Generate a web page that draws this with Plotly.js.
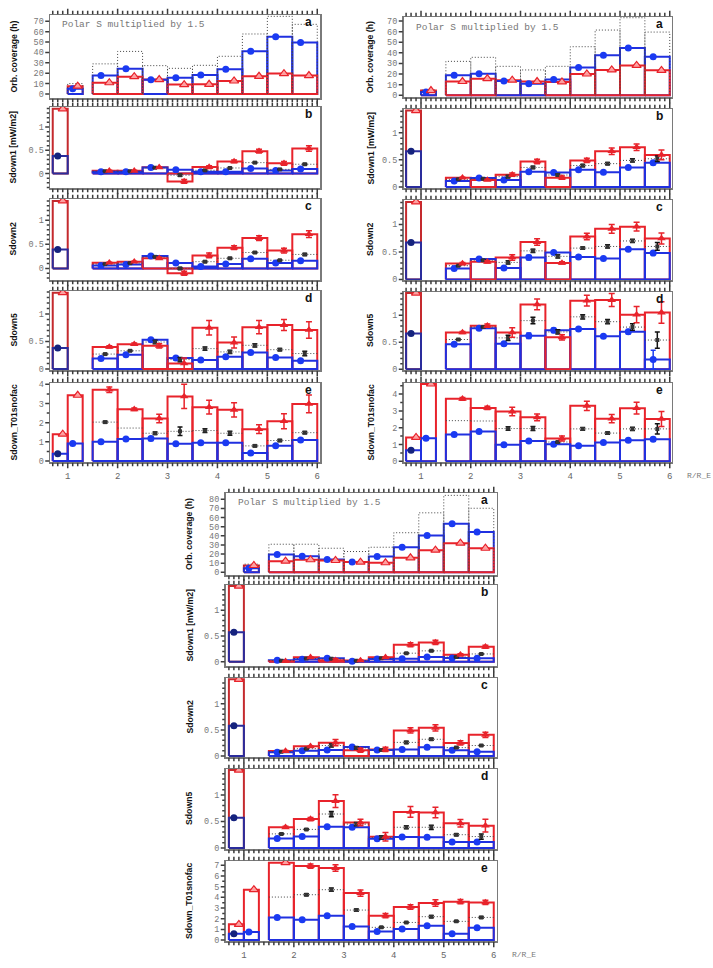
<!DOCTYPE html>
<html><head><meta charset="utf-8">
<script src="https://cdn.plot.ly/plotly-3.0.1.min.js"></script>
<style>html,body{margin:0;padding:0;background:#fff}#chart{width:713px;height:968px}</style>
</head><body><div id="chart"></div>
<script>
// Radial bins (R/R_E): lower and upper edges
const binLo = [0.7, 1.0, 1.5, 2.0, 2.5, 3.0, 3.5, 4.0, 4.5, 5.0, 5.5];
const binHi = [1.0, 1.3, 2.0, 2.5, 3.0, 3.5, 4.0, 4.5, 5.0, 5.5, 6.0];

// ---- Upper-left set ----
const tlA_total = [null, 10, 29, 41, 27.3, 24.7, 27.6, 36.3, 57.8, 74.8, 67.1];
const tlA_blue  = [null, 5, 17.7, 24.4, 13.8, 15.7, 18.3, 23.8, 41.1, 55.2, 49.5];
const tlA_red   = [null, 7.5, 10.8, 16.7, 13.9, 9, 9.3, 12.5, 17, 19.6, 17.7];

const tlB_blue    = [0.38, null, 0.04, 0.04, 0.13, 0.08, 0.04, 0.04, 0.11, 0.065, 0.10];
const tlB_blueErr = [0, null, 0, 0, 0, 0, 0, 0, 0, 0, 0];
const tlB_red     = [1.39, null, 0.06, 0.06, 0.135, -0.17, 0.14, 0.26, 0.48, 0.22, 0.54];
const tlB_redErr  = [null, null, 0.01, 0.01, 0.01, 0.04, 0.03, 0.03, 0.04, 0.04, 0.06];
const tlB_mean    = [null, null, 0.05, 0.05, 0.125, -0.035, 0.07, 0.12, 0.235, 0.09, 0.2];
const tlB_meanErr = [null, null, 0.005, 0.005, 0.01, 0.02, 0.01, 0.01, 0.015, 0.01, 0.015];

const tlC_blue    = [0.39, null, 0.06, 0.08, 0.26, 0.11, 0.04, 0.09, 0.20, 0.11, 0.16];
const tlC_blueErr = [0, null, 0, 0, 0, 0, 0, 0, 0, 0, 0];
const tlC_red     = [1.40, null, 0.12, 0.14, 0.21, -0.10, 0.27, 0.43, 0.63, 0.37, 0.71];
const tlC_redErr  = [null, null, 0.01, 0.01, 0.02, 0.04, 0.05, 0.04, 0.05, 0.05, 0.07];
const tlC_mean    = [null, null, 0.09, 0.11, 0.24, 0.0, 0.14, 0.21, 0.33, 0.17, 0.29];
const tlC_meanErr = [null, null, 0.005, 0.01, 0.01, 0.02, 0.015, 0.015, 0.015, 0.01, 0.02];

const tlD_blue    = [0.38, null, 0.19, 0.26, 0.53, 0.20, 0.16, 0.22, 0.30, 0.21, 0.15];
const tlD_blueErr = [0, null, 0, 0, 0.02, 0.02, 0, 0, 0, 0, 0];
const tlD_red     = [1.39, null, 0.40, 0.45, 0.42, 0.10, 0.75, 0.48, 0.76, 0.80, 0.71];
const tlD_redErr  = [null, null, 0.02, 0.02, 0.04, 0.1, 0.13, 0.1, 0.12, 0.1, 0.15];
const tlD_mean    = [null, null, 0.27, 0.33, 0.49, 0.17, 0.37, 0.31, 0.43, 0.35, 0.28];
const tlD_meanErr = [null, null, 0.01, 0.01, 0.03, 0.04, 0.03, 0.03, 0.03, 0.02, 0.04];

const tlE_blue    = [0.38, 0.92, 1.0, 1.15, 1.17, 0.9, 0.95, 0.95, 0.42, 0.80, 1.1];
const tlE_blueErr = [0, 0, 0, 0, 0.1, 0, 0, 0, 0, 0, 0];
const tlE_red     = [1.40, 3.43, 3.72, 2.70, 2.22, 3.37, 2.81, 2.67, 1.66, 2.08, 2.98];
const tlE_redErr  = [null, null, 0.14, 0.07, 0.22, 0.63, 0.36, 0.37, 0.23, 0.39, 0.46];
const tlE_mean    = [null, null, 2.03, 1.72, 1.45, 1.55, 1.59, 1.45, 0.79, 1.07, 1.48];
const tlE_meanErr = [null, null, 0.05, null, 0.07, 0.22, 0.1, 0.1, 0.05, 0.05, 0.06];

// ---- Upper-right set ----
const trA_total = [null, 5, 32, 35.8, 27.3, 23.9, 27.3, 45.8, 61.5, 73.1, 59.6];
const trA_blue  = [null, 3, 19, 20.4, 13.5, 11, 14.8, 26.2, 37.7, 44.6, 36.3];
const trA_red   = [null, 4.5, 13, 15.7, 14.3, 13, 12.6, 20.1, 23.9, 28.2, 23.5];

const trB_blue    = [0.66, null, 0.11, 0.165, 0.13, 0.28, 0.265, 0.315, 0.27, 0.36, 0.445];
const trB_blueErr = [0, null, 0, 0, 0, 0.02, 0.02, 0, 0, 0, 0.03];
const trB_red     = [1.41, null, 0.17, 0.13, 0.225, 0.47, 0.17, 0.49, 0.66, 0.735, 0.59];
const trB_redErr  = [null, null, 0.01, 0.01, 0.03, 0.04, 0.03, 0.04, 0.06, 0.06, 0.09];
const trB_mean    = [null, null, 0.14, 0.15, 0.19, 0.36, 0.22, 0.395, 0.43, 0.49, 0.52];
const trB_meanErr = [null, null, 0.005, 0.005, 0.02, 0.02, 0.02, 0.02, 0.02, 0.03, 0.05];

const trC_blue    = [0.67, null, 0.20, 0.37, 0.21, 0.40, 0.49, 0.41, 0.38, 0.55, 0.48];
const trC_blueErr = [0, null, 0, 0, 0, 0.04, 0, 0, 0, 0, 0.03];
const trC_red     = [1.41, null, 0.29, 0.32, 0.40, 0.68, 0.30, 0.78, 0.92, 0.96, 0.745];
const trC_redErr  = [null, null, 0.02, 0.02, 0.05, 0.06, 0.02, 0.06, 0.08, 0.08, 0.1];
const trC_mean    = [null, null, 0.25, 0.35, 0.31, 0.52, 0.42, 0.57, 0.60, 0.70, 0.60];
const trC_meanErr = [null, null, 0.005, 0.01, 0.03, 0.03, 0.03, 0.02, 0.03, 0.03, 0.07];

const trD_blue    = [0.66, null, 0.46, 0.76, 0.47, 0.62, 0.72, 0.745, 0.61, 0.695, 0.18];
const trD_blueErr = [0, null, 0.02, 0.02, 0.02, 0.05, 0.04, 0.02, 0.03, 0.04, 0.17];
const trD_red     = [1.41, null, 0.68, 0.805, 0.68, 1.20, 0.59, 1.27, 1.28, 1.01, 1.05];
const trD_redErr  = [null, null, 0.02, 0.03, 0.09, 0.1, 0.05, 0.1, 0.12, 0.15, 0.2];
const trD_mean    = [null, null, 0.55, 0.78, 0.58, 0.90, 0.69, 0.97, 0.88, 0.78, 0.54];
const trD_meanErr = [null, null, 0.01, 0.01, 0.05, 0.06, 0.04, 0.04, 0.04, 0.06, 0.15];

const trE_blue    = [0.66, 1.38, 1.6, 1.78, 0.98, 1.21, 1.01, 0.92, 1.12, 1.26, 1.32];
const trE_blueErr = [0, 0, 0.03, 0.03, 0.05, 0.06, 0.05, 0.05, 0.06, 0.06, 0.1];
const trE_red     = [1.42, 4.6, 3.72, 3.18, 2.96, 2.62, 1.36, 3.3, 2.54, 3.16, 2.52];
const trE_redErr  = [null, null, 0.08, 0.09, 0.25, 0.2, 0.15, 0.27, 0.25, 0.35, 0.45];
const trE_mean    = [null, null, 2.42, 2.40, 1.95, 1.95, 1.15, 1.93, 1.68, 1.93, 1.93];
const trE_meanErr = [null, null, null, null, 0.1, 0.12, 0.04, 0.08, 0.07, 0.1, 0.3];

// ---- Lower set ----
const bA_total = [null, 9, 30.8, 30.8, 26.4, 22.8, 27.5, 43.4, 65.2, 84.3, 70.2];
const bA_blue  = [null, 4.5, 19.5, 17.7, 14.1, 11.4, 17.4, 27.5, 40.4, 53.2, 44.2];
const bA_red   = [null, 7.5, 12.2, 13.8, 13.0, 11.2, 10.5, 15.9, 24.3, 31.9, 26.4];

const bB_blue    = [0.57, null, 0.03, 0.045, 0.065, 0.01, 0.05, 0.055, 0.09, 0.07, 0.065];
const bB_blueErr = [0, null, 0, 0, 0, 0, 0, 0, 0, 0, 0];
const bB_red     = [1.47, null, 0.01, 0.085, 0.03, 0.025, 0.085, 0.33, 0.375, 0.135, 0.29];
const bB_redErr  = [null, null, 0.01, 0.01, 0.03, 0.01, 0.01, 0.04, 0.04, 0.02, 0.03];
const bB_mean    = [null, null, 0.02, 0.06, 0.055, 0.02, 0.065, 0.165, 0.21, 0.09, 0.15];
const bB_meanErr = [null, null, 0.005, 0.005, 0.005, 0.005, 0.005, 0.01, 0.01, 0.01, 0.01];

const bC_blue    = [0.58, null, 0.07, 0.10, 0.115, 0.17, 0.115, 0.125, 0.165, 0.11, 0.08];
const bC_blueErr = [0, null, 0, 0, 0, 0, 0, 0, 0, 0, 0];
const bC_red     = [1.47, null, 0.095, 0.185, 0.255, 0.11, 0.125, 0.49, 0.54, 0.25, 0.405];
const bC_redErr  = [null, null, 0.01, 0.01, 0.06, 0.04, 0.04, 0.05, 0.06, 0.04, 0.05];
const bC_mean    = [null, null, 0.08, 0.14, 0.2, 0.155, 0.115, 0.26, 0.32, 0.16, 0.2];
const bC_meanErr = [null, null, 0.005, 0.01, 0.03, 0.02, 0.01, 0.02, 0.02, 0.01, 0.01];

const bD_blue    = [0.57, null, 0.18, 0.215, 0.40, 0.39, 0.175, 0.205, 0.20, 0.11, 0.11];
const bD_blueErr = [0, null, 0, 0, 0, 0, 0, 0, 0, 0, 0];
const bD_red     = [1.47, null, 0.39, 0.545, 0.885, 0.48, 0.21, 0.68, 0.67, 0.465, 0.42];
const bD_redErr  = [null, null, 0.02, 0.03, 0.12, 0.06, 0.08, 0.1, 0.1, 0.07, 0.12];
const bD_mean    = [null, null, 0.265, 0.35, 0.64, 0.45, 0.2, 0.39, 0.39, 0.25, 0.215];
const bD_meanErr = [null, null, 0.01, 0.01, 0.05, 0.03, 0.03, 0.03, 0.04, 0.02, 0.05];

const bE_blue    = [0.58, 0.75, 2.12, 1.9, 2.27, 1.28, 0.8, 1.03, 1.34, 0.6, 1.15];
const bE_blueErr = [0, 0, 0, 0, 0, 0, 0, 0, 0, 0, 0];
const bE_red     = [1.47, 4.72, 7.25, 6.94, 6.75, 4.4, 2.28, 3.1, 3.47, 3.6, 3.53];
const bE_redErr  = [null, null, null, 0.2, 0.3, 0.3, 0.2, 0.22, 0.3, 0.2, 0.2];
const bE_mean    = [null, null, 4.03, 4.25, 4.72, 2.81, 1.19, 1.65, 2.19, 1.75, 2.12];
const bE_meanErr = [null, null, null, 0.1, 0.15, 0.1, 0.05, 0.05, 0.1, 0.05, 0.08];

// Axis titles and panel letters
const yTitles = ['Orb. coverage (h)', 'Sdown1 [mW/m2]', 'Sdown2', 'Sdown5', 'Sdown_T01snofac'];
const panelLetters = ['a', 'b', 'c', 'd', 'e'];
const noteText = 'Polar S multiplied by 1.5';

// ---- drawing ----
const W = 713, H = 968;
const BLUE = '#2030e0', BLUE_M = '#1a3af2', NAVY = '#15237e', BLUE_DK = '#2a2c9c';
const RED = '#e8232b', RED_DK = '#c42a2e', PINK = 'rgba(255,165,165,0.95)';
const FRAME = '#7a7a7a', TICK = '#3c3c3c';
const MONO = "'Liberation Mono', 'DejaVu Sans Mono', monospace";
const SANS = "'Liberation Sans', Arial, sans-serif";

const sets = [
  { left: 50, right: 320, xr: [0.645, 6.055], tops: [15, 107, 199, 291, 383], bots: [98, 188, 280, 370, 462],
    titleX: 13, rre: false,
    yr: [[-3.9, 76.1], [-0.31, 1.43], [-0.24, 1.44], [-0.02, 1.42], [-0.05, 4.07]],
    panels: [
      { total: tlA_total, blue: tlA_blue, red: tlA_red },
      { blue: tlB_blue, blueErr: tlB_blueErr, red: tlB_red, redErr: tlB_redErr, mean: tlB_mean, meanErr: tlB_meanErr },
      { blue: tlC_blue, blueErr: tlC_blueErr, red: tlC_red, redErr: tlC_redErr, mean: tlC_mean, meanErr: tlC_meanErr },
      { blue: tlD_blue, blueErr: tlD_blueErr, red: tlD_red, redErr: tlD_redErr, mean: tlD_mean, meanErr: tlD_meanErr },
      { blue: tlE_blue, blueErr: tlE_blueErr, red: tlE_red, redErr: tlE_redErr, mean: tlE_mean, meanErr: tlE_meanErr }
    ] },
  { left: 403.5, right: 671.5, xr: [0.648, 6.035], tops: [17, 109, 200, 292, 383], bots: [97, 188, 280, 370, 462],
    titleX: 370, rre: true,
    yr: [[-1.6, 73.8], [-0.02, 1.44], [-0.01, 1.445], [-0.015, 1.43], [-0.04, 4.66]],
    panels: [
      { total: trA_total, blue: trA_blue, red: trA_red },
      { blue: trB_blue, blueErr: trB_blueErr, red: trB_red, redErr: trB_redErr, mean: trB_mean, meanErr: trB_meanErr },
      { blue: trC_blue, blueErr: trC_blueErr, red: trC_red, redErr: trC_redErr, mean: trC_mean, meanErr: trC_meanErr },
      { blue: trD_blue, blueErr: trD_blueErr, red: trD_red, redErr: trD_redErr, mean: trD_mean, meanErr: trD_meanErr },
      { blue: trE_blue, blueErr: trE_blueErr, red: trE_red, redErr: trE_redErr, mean: trE_mean, meanErr: trE_meanErr }
    ] },
  { left: 225.5, right: 496.5, xr: [0.632, 6.055], tops: [493, 585, 678, 769, 861], bots: [575, 666, 757, 849, 941],
    titleX: 189, rre: true,
    yr: [[-2.9, 86.9], [-0.084, 1.49], [-0.02, 1.495], [-0.02, 1.49], [-0.09, 7.41]],
    panels: [
      { total: bA_total, blue: bA_blue, red: bA_red },
      { blue: bB_blue, blueErr: bB_blueErr, red: bB_red, redErr: bB_redErr, mean: bB_mean, meanErr: bB_meanErr },
      { blue: bC_blue, blueErr: bC_blueErr, red: bC_red, redErr: bC_redErr, mean: bC_mean, meanErr: bC_meanErr },
      { blue: bD_blue, blueErr: bD_blueErr, red: bD_red, redErr: bD_redErr, mean: bD_mean, meanErr: bD_meanErr },
      { blue: bE_blue, blueErr: bE_blueErr, red: bE_red, redErr: bE_redErr, mean: bE_mean, meanErr: bE_meanErr }
    ] }
];

function boxes(vals, keep) {
  const x = [], y = [];
  vals.forEach((v, i) => {
    if (v == null || !keep(i)) return;
    const lo = binLo[i], hi = binHi[i];
    x.push(lo, lo, hi, hi, lo, null);
    y.push(0, v, v, 0, 0, null);
  });
  return { x, y };
}
function levels(vals) {
  const x = [], y = [];
  vals.forEach((v, i) => {
    if (v == null) return;
    x.push(binLo[i], binHi[i], null);
    y.push(v, v, null);
  });
  return { x, y };
}
function openBoxes(vals) {
  const x = [], y = [];
  vals.forEach((v, i) => {
    if (v == null) return;
    x.push(binLo[i], binLo[i], binHi[i], binHi[i], null);
    y.push(0, v, v, 0, null);
  });
  return { x, y };
}
const at = f => binLo.map((lo, i) => lo + f * (binHi[i] - lo));

// multiples of step inside [lo, hi], optionally skipping multiples of a coarser step
function steps(lo, hi, step, skip) {
  const out = [];
  for (let t = Math.ceil(lo / step - 1e-9); t * step <= hi + 1e-9; t++) {
    const v = +(t * step).toFixed(6);
    if (skip && Math.abs(v / skip - Math.round(v / skip)) < 1e-6) continue;
    out.push(v);
  }
  return out;
}

const data = [];
const layout = {
  width: W, height: H, margin: { l: 0, r: 0, t: 0, b: 0 },
  paper_bgcolor: '#fff', plot_bgcolor: 'rgba(0,0,0,0)', showlegend: false, hovermode: false,
  annotations: [], shapes: []
};
const fx = px => (px / W).toFixed(5);
const fy = px => (1 - px / H).toFixed(5);

sets.forEach((s, g) => {
  s.panels.forEach((p, k) => {
    const n = g * 5 + k + 1;
    const xa = 'x' + n, ya = 'y' + n;
    const top = s.tops[k], bot = s.bots[k];
    const isA = k === 0, isE = k === 4;
    const yr = s.yr[k];
    const yMajor = isA ? 10 : (isE ? 1 : 0.5);
    const yMinor = isA ? null : (isE ? 0.5 : 0.1);

    // axes: frame and labels
    layout['xaxis' + n] = {
      domain: [s.left / W, s.right / W], anchor: ya, range: s.xr,
      showgrid: false, zeroline: false, showline: true, mirror: true,
      linecolor: FRAME, linewidth: 1.5,
      ticks: 'outside', ticklen: 5, tickcolor: 'rgba(0,0,0,0)',
      tickmode: 'linear', tick0: 0, dtick: 1,
      showticklabels: isE, tickfont: { family: MONO, size: 9, color: '#666' }
    };
    layout['yaxis' + n] = {
      domain: [1 - bot / H, 1 - top / H], anchor: xa, range: yr,
      showgrid: false, zeroline: false, showline: true, mirror: true,
      linecolor: FRAME, linewidth: 1.5,
      ticks: 'outside', ticklen: 3, tickcolor: 'rgba(0,0,0,0)',
      tickmode: 'linear', tick0: 0, dtick: yMajor,
      tickfont: { family: MONO, size: 8.5, color: '#777' }
    };

    // tick strokes outside the frame, placed from the axis ranges
    const xPx = v => s.left + (v - s.xr[0]) / (s.xr[1] - s.xr[0]) * (s.right - s.left);
    const yPx = v => bot - (v - yr[0]) / (yr[1] - yr[0]) * (bot - top);
    let path = '';
    const xMaj = steps(s.xr[0], s.xr[1], 1), xMin = steps(s.xr[0], s.xr[1], 0.1, 1);
    [[xMaj, 5.5], [xMin, 3.5]].forEach(([xs, len]) => {
      xs.forEach(v => {
        const px = xPx(v);
        path += `M${fx(px)},${fy(bot + 0.75)}L${fx(px)},${fy(bot + 0.75 + len)}`;
        path += `M${fx(px)},${fy(top - 0.75)}L${fx(px)},${fy(top - 0.75 - len)}`;
      });
    });
    const yTickRows = [[steps(yr[0], yr[1], yMajor), 4]];
    if (yMinor) yTickRows.push([steps(yr[0], yr[1], yMinor, yMajor), 2.5]);
    yTickRows.forEach(([ys, len]) => {
      ys.forEach(v => {
        const py = yPx(v);
        path += `M${fx(s.left - 0.75)},${fy(py)}L${fx(s.left - 0.75 - len)},${fy(py)}`;
      });
    });
    layout.shapes.push({ type: 'path', xref: 'paper', yref: 'paper', layer: 'above', path: path, line: { color: TICK, width: 1.5 } });

    const line = (c, w, dash) => ({ color: c, width: w, dash: dash || 'solid' });
    const lineTrace = (pth, ln) => ({ type: 'scatter', mode: 'lines', x: pth.x, y: pth.y, xaxis: xa, yaxis: ya, line: ln, connectgaps: false });
    const polarBin = i => i === 0 && !isE;

    // step boxes: in each bin the shorter box is drawn last
    data.push(lineTrace(boxes(p.red, i => !polarBin(i) && (p.blue[i] == null || p.red[i] >= p.blue[i])), line(RED, 2)));
    data.push(lineTrace(boxes(p.red, i => polarBin(i)), line(RED_DK, 2)));
    data.push(lineTrace(boxes(p.blue, i => !polarBin(i)), line(BLUE, 2)));
    data.push(lineTrace(boxes(p.blue, i => polarBin(i)), line(BLUE_DK, 2)));
    data.push(lineTrace(boxes(p.red, i => !polarBin(i) && p.blue[i] != null && p.red[i] < p.blue[i]), line(RED, 2)));

    if (isA) data.push(lineTrace(openBoxes(p.total), line('#444', 1, '1px,2px')));
    else data.push(lineTrace(levels(p.mean), line('#444', 1, '1px,2px')));

    // blue circles
    const blueTr = {
      type: 'scatter', mode: 'markers', x: at(1 / 3), y: p.blue, xaxis: xa, yaxis: ya,
      marker: { symbol: 'circle', size: 7, color: p.blue.map((v, i) => i === 0 ? NAVY : BLUE_M), line: { width: 0 } }
    };
    if (p.blueErr) blueTr.error_y = { type: 'data', array: p.blueErr.map(v => v == null ? 0 : v), color: BLUE_M, thickness: 1.5, width: 2.5 };
    data.push(blueTr);

    // black mean markers with error bars
    if (!isA) {
      data.push({
        type: 'scatter', mode: 'markers', x: at(0.5), y: p.mean.map((v, i) => p.meanErr[i] == null ? null : v),
        xaxis: xa, yaxis: ya,
        marker: { symbol: 'square', size: 4, color: '#333' },
        error_y: { type: 'data', array: p.meanErr.map(v => v == null ? 0 : v), color: '#111', thickness: 1.5, width: 2.5 }
      });
    }

    // red triangles: filled where an error is given, open otherwise
    const errs = p.redErr || p.red.map(() => null);
    data.push({
      type: 'scatter', mode: 'markers', x: at(2 / 3), y: p.red.map((v, i) => errs[i] == null ? null : v),
      xaxis: xa, yaxis: ya,
      marker: { symbol: 'triangle-up', size: 7.5, color: RED, line: { width: 0 } },
      error_y: { type: 'data', array: errs.map(v => v == null ? 0 : v), color: RED, thickness: 1.5, width: 3 }
    });
    data.push({
      type: 'scatter', mode: 'markers', x: at(2 / 3), y: p.red.map((v, i) => errs[i] == null ? v : null),
      xaxis: xa, yaxis: ya,
      marker: { symbol: 'triangle-up', size: 8, color: PINK, line: { width: 1.2, color: RED } }
    });

    // annotations
    layout.annotations.push({
      xref: 'paper', yref: 'paper', x: (s.right - 12) / W, y: 1 - (top + 7) / H,
      xanchor: 'center', yanchor: 'middle', showarrow: false, text: panelLetters[k],
      font: { family: SANS, size: 12, color: '#111', weight: 'bold' }
    });
    layout.annotations.push({
      xref: 'paper', yref: 'paper', x: s.titleX / W, y: 1 - (top + bot) / 2 / H,
      xanchor: 'center', yanchor: 'middle', showarrow: false, textangle: -90, text: yTitles[k],
      font: { family: SANS, size: 8.7, color: '#111', weight: 'bold' }
    });
    if (isA) {
      layout.annotations.push({
        xref: 'paper', yref: 'paper', x: (s.left + 10) / W, y: 1 - (top + 10) / H,
        xanchor: 'left', yanchor: 'middle', showarrow: false, text: noteText,
        font: { family: MONO, size: 9.5, color: '#777' }
      });
    }
    if (isE && s.rre) {
      layout.annotations.push({
        xref: 'paper', yref: 'paper', x: (s.right + 13) / W, y: 1 - (bot + 13) / H,
        xanchor: 'left', yanchor: 'middle', showarrow: false, text: 'R/R_E',
        font: { family: MONO, size: 8, color: '#777' }
      });
    }
  });
});

Plotly.newPlot('chart', data, layout, { staticPlot: true, displayModeBar: false });
</script></body></html>
